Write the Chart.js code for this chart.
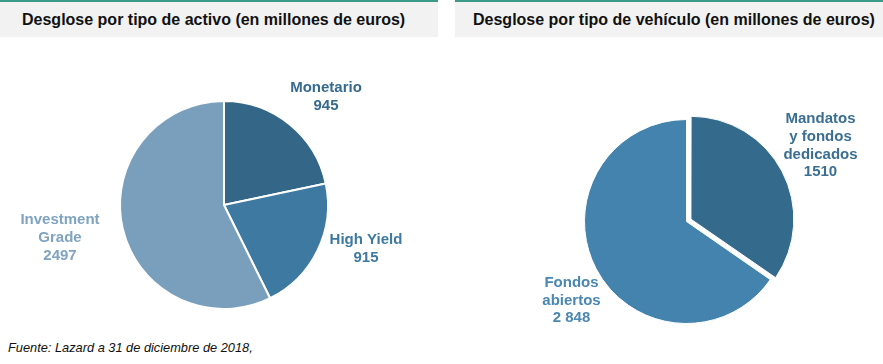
<!DOCTYPE html>
<html>
<head>
<meta charset="utf-8">
<script src="https://cdn.jsdelivr.net/npm/chart.js@4.4.1/dist/chart.umd.min.js"></script>
<style>
    body { margin: 0; width: 883px; height: 364px; background: #fff; position: relative; overflow: hidden; font-family: "Liberation Sans", Arial, sans-serif; }
    .panel-title { position: absolute; top: 0; height: 37px; background: #f2f2f2; border-top: 2px solid #3b9987; font-weight: bold; font-size: 16px; color: #111; line-height: 35px; box-sizing: border-box; }
    #t1 { left: 0; width: 438px; padding-left: 22px; }
    #t2 { left: 455px; width: 428px; padding-left: 18px; }
    .wrap { position: absolute; top: 40px; }
    #w1 { left: 0; width: 440px; height: 290px; }
    #w2 { left: 450px; width: 433px; height: 300px; }
    #source { position: absolute; left: 8px; top: 340px; font-style: italic; font-size: 12.8px; color: #111; }
</style>
</head>
<body>
<div class="panel-title" id="t1">Desglose por tipo de activo (en millones de euros)</div>
<div class="panel-title" id="t2">Desglose por tipo de vehículo (en millones de euros)</div>
<div class="wrap" id="w1"><canvas id="activoChart"></canvas></div>
<div class="wrap" id="w2"><canvas id="vehiculoChart"></canvas></div>
<div id="source">Fuente: Lazard a 31 de diciembre de 2018,</div>
<script>
// Data
const activoLabels = ['Monetario', 'High Yield', 'Investment Grade'];
const activoValues = [945, 915, 2497];
const activoText = [['Monetario', '945'], ['High Yield', '915'], ['Investment', 'Grade', '2497']];

const vehiculoLabels = ['Mandatos y fondos dedicados', 'Fondos abiertos'];
const vehiculoValues = [1510, 2848];
const vehiculoText = [['Mandatos', 'y fondos', 'dedicados', '1510'], ['Fondos', 'abiertos', '2 848']];

// Draws the outside labels next to each slice
const sliceLabels = {
    id: 'sliceLabels',
    afterDraw(chart, args, opts) {
        const ctx = chart.ctx;
        const arcs = chart.getDatasetMeta(0).data;
        ctx.save();
        ctx.font = 'bold 15px "Liberation Sans", Arial, sans-serif';
        ctx.textAlign = 'center';
        ctx.textBaseline = 'middle';
        arcs.forEach((arc, i) => {
            const lines = opts.text[i];
            const pos = opts.pos[i];
            const lh = 17.8;
            const cx = arc.x + pos[0];
            const cy = arc.y + pos[1] - (lines.length - 1) * lh / 2;
            ctx.fillStyle = opts.colors[i];
            lines.forEach((l, j) => ctx.fillText(l, cx, cy + j * lh));
        });
        ctx.restore();
    }
};

function makePie(id, labels, values, colors, extra) {
    return new Chart(document.getElementById(id), {
        type: 'pie',
        data: {
            labels: labels,
            datasets: [{
                data: values,
                backgroundColor: colors,
                borderColor: '#ffffff',
                borderWidth: extra.borderWidth,
                offset: extra.offset
            }]
        },
        options: {
            responsive: true,
            maintainAspectRatio: false,
            animation: false,
            layout: { padding: extra.padding },
            plugins: {
                legend: { display: false },
                tooltip: { enabled: false },
                sliceLabels: extra.labels
            }
        },
        plugins: [sliceLabels]
    });
}

makePie('activoChart', activoLabels, activoValues, ['#336687', '#3d79a1', '#7a9fbd'], {
    borderWidth: 2,
    offset: 0,
    padding: { left: 119, right: 111, top: 60, bottom: 20 },
    labels: {
        text: activoText,
        colors: ['#346a8f', '#3d79a1', '#7fa3c1'],
        pos: [[102, -108], [142, 44], [-164, 33]]
    }
});

// the "Mandatos" slice is pulled out of the pie
makePie('vehiculoChart', vehiculoLabels, vehiculoValues, ['#346a8c', '#4383ae'], {
    borderWidth: 1,
    offset: [20, 0],
    padding: { left: 124, right: 84, top: 69, bottom: 6 },
    labels: {
        text: vehiculoText,
        colors: ['#3a6f93', '#4a87b1'],
        pos: [[134, -76], [-115, 79]]
    }
});
</script>
</body>
</html>
